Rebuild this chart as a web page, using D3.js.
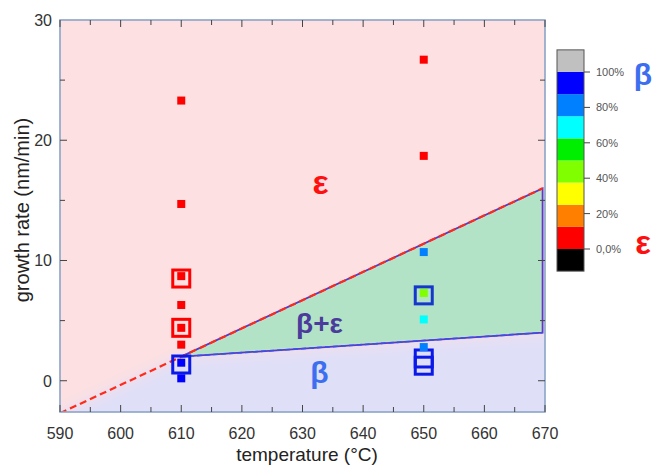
<!DOCTYPE html>
<html><head><meta charset="utf-8">
<script src="https://cdn.jsdelivr.net/npm/d3@7"></script>
<style>body{margin:0;background:#fff}svg{display:block}text{font-family:"Liberation Sans",Arial,sans-serif}</style>
</head><body>
<svg id="c" width="654" height="468"></svg>
<script>
// ---- data ----
const xTicks = [590,600,610,620,630,640,650,660,670];
const yTicks = [0,10,20,30];
const filledTemp = [610,610,610,610,610,610,610,610, 650,650,650,650,650,650];
const filledRate = [23.3,14.7,8.7,6.3,4.4,3.0,1.5,0.2, 26.7,18.7,10.7,7.3,5.1,2.8];
const filledBeta = [0,0,0,0,0,0,100,100, 0,0,80,45,68,80];
const openTemp = [610,610,610,650,650,650];
const openRate = [8.5,4.4,1.35,7.1,1.85,1.25];
const openBeta = [0,0,100,100,100,100];
// phase boundaries (temperature, rate)
const upperLine = [[590,-2.7],[669.6,16.0]];
const triangle = [[610,2.0],[669.6,16.0],[669.6,4.0]];
const lowerLine = [[610,2.0],[669.6,4.0]];
// colour bar
const barColors = ["#000000","#ff0000","#ff8000","#ffff00","#80ff00","#00ee00","#00ffff","#0080ff","#0000ff","#c0c0c0"];
const barTickVals = [0,20,40,60,80,100];
const barTickLabels = ["0,0%","20%","40%","60%","80%","100%"];

// ---- layout ----
const svg = d3.select("#c");
const x = d3.scaleLinear().domain([590,670]).range([60,545]);
const y = d3.scaleLinear().domain([-2.6,30]).range([412,20]);
const colorFor = v => barColors[Math.min(7, Math.floor(v/12.5)) + 1];

const defs = svg.append("defs");
defs.append("clipPath").attr("id","plotclip").append("rect")
  .attr("x",x(590)).attr("y",y(30)).attr("width",x(670)-x(590)).attr("height",y(-2.6)-y(30));
defs.append("filter").attr("id","blur").attr("x","-20%").attr("y","-20%").attr("width","140%").attr("height","140%")
  .append("feGaussianBlur").attr("stdDeviation",7);
defs.append("filter").attr("id","blur2")
  .append("feGaussianBlur").attr("stdDeviation",1.2);

const line = d3.line().x(d=>x(d[0])).y(d=>y(d[1]));

const bg = svg.append("g").attr("clip-path","url(#plotclip)");
const bgb = bg.append("g").attr("filter","url(#blur)");
bgb.append("rect").attr("x",x(580)).attr("y",y(34)).attr("width",x(680)-x(580)).attr("height",y(-8)-y(34)).attr("fill","#fde0e1");
const slope = (upperLine[1][1]-upperLine[0][1])/(upperLine[1][0]-upperLine[0][0]);
const lav = [[582, upperLine[0][1] + (582-590)*slope],[610,2.0],[669.6,4.0],[680,4.3],[680,-8],[582,-8]];
bgb.append("path").attr("d", line(lav)+"Z").attr("fill","#dfdff8");
bg.append("path").attr("d", line(triangle)+"Z").attr("fill","#b3e3c7").attr("filter","url(#blur2)");
bg.append("path").attr("d", line(triangle)+"Z").attr("fill","none").attr("stroke","#5a38c8").attr("stroke-width",1.8);
bg.append("path").attr("d", line(lowerLine)).attr("fill","none").attr("stroke","#3d4fe8").attr("stroke-width",1.6).attr("stroke-dasharray","5,3");
bg.append("path").attr("d", line(upperLine)).attr("fill","none").attr("stroke","#ff2a1a").attr("stroke-width",2.2).attr("stroke-dasharray","7,4");

// axes frame
const frame = svg.append("g");
const axisColor = "#8ba4c9";
frame.append("rect").attr("x",x(590)).attr("y",y(30)).attr("width",x(670)-x(590)).attr("height",y(-2.6)-y(30))
  .attr("fill","none").attr("stroke",axisColor).attr("stroke-width",1.6);
const tickC = "#444";
d3.range(590,671,5).forEach(v=>{
  const L = v%10===0 ? 7 : 5;
  frame.append("line").attr("x1",x(v)).attr("x2",x(v)).attr("y1",y(-2.6)).attr("y2",y(-2.6)-L).attr("stroke",tickC);
  frame.append("line").attr("x1",x(v)).attr("x2",x(v)).attr("y1",y(30)).attr("y2",y(30)+L).attr("stroke",tickC);
});
d3.range(0,30,5).forEach(v=>{
  const L = v%10===0 ? 7 : 5;
  frame.append("line").attr("y1",y(v)).attr("y2",y(v)).attr("x1",x(590)).attr("x2",x(590)+L).attr("stroke",tickC);
  frame.append("line").attr("y1",y(v)).attr("y2",y(v)).attr("x1",x(670)).attr("x2",x(670)-L).attr("stroke",tickC);
});
xTicks.forEach(v=>{
  frame.append("text").attr("x",x(v)).attr("y",y(-2.6)+27).attr("text-anchor","middle")
    .attr("font-size",16).attr("fill","#333").text(v);
});
yTicks.forEach(v=>{
  frame.append("text").attr("x",x(590)-8).attr("y",y(v)+6).attr("text-anchor","end")
    .attr("font-size",16).attr("fill","#333").text(v);
});
svg.append("text").attr("x",307).attr("y",461).attr("text-anchor","middle").attr("font-size",19).attr("fill","#222").text("temperature (°C)");
svg.append("text").attr("transform","translate(29,210) rotate(-90)").attr("text-anchor","middle").attr("font-size",20).attr("fill","#222").text("growth rate (nm/min)");

// phase labels
svg.append("text").attr("x",x(633)).attr("y",y(15.5)).attr("text-anchor","middle").attr("font-size",34).attr("font-weight","bold").attr("fill","#ff1010").text("ε");
svg.append("text").attr("x",x(632.8)).attr("y",y(4.0)).attr("text-anchor","middle").attr("font-size",28).attr("font-weight","bold").attr("fill","#4b3b9c").text("β+ε");
svg.append("text").attr("x",x(632.8)).attr("y",y(-0.2)).attr("text-anchor","middle").attr("font-size",30).attr("font-weight","bold").attr("fill","#3c6ef0").text("β");

// data markers
const pts = svg.append("g");
const openS = 17;
openTemp.forEach((t,i)=>{
  pts.append("rect").attr("x",x(t)-openS/2).attr("y",y(openRate[i])-openS/2).attr("width",openS).attr("height",openS)
    .attr("fill","none").attr("stroke", openBeta[i]===0 ? "#ff0000" : (t===650 && i===3 ? "#1538cc" : "#0a18e8")).attr("stroke-width",3);
});
const fs = 8;
filledTemp.forEach((t,i)=>{
  pts.append("rect").attr("x",x(t)-fs/2).attr("y",y(filledRate[i])-fs/2).attr("width",fs).attr("height",fs)
    .attr("fill", colorFor(filledBeta[i]));
});

// colour bar
const cb = svg.append("g");
const pc = d3.scaleLinear().domain([0,100]).range([249,72]);
barColors.forEach((c,i)=>{
  const lo = -12.5 + i*12.5, hi = lo + 12.5;
  cb.append("rect").attr("x",557).attr("y",pc(hi)).attr("width",27).attr("height",pc(lo)-pc(hi)).attr("fill",c);
});
cb.append("rect").attr("x",557).attr("y",pc(112.5)).attr("width",27).attr("height",pc(-12.5)-pc(112.5))
  .attr("fill","none").attr("stroke","#555").attr("stroke-width",1);
barTickVals.forEach((v,i)=>{
  cb.append("line").attr("x1",584).attr("x2",590).attr("y1",pc(v)).attr("y2",pc(v)).attr("stroke","#444");
  cb.append("text").attr("x",596).attr("y",pc(v)+4).attr("font-size",11).attr("fill","#555").text(barTickLabels[i]);
});
svg.append("text").attr("x",643).attr("y",85).attr("text-anchor","middle").attr("font-size",30).attr("font-weight","bold").attr("fill","#3c6ef0").text("β");
svg.append("text").attr("x",643).attr("y",254).attr("text-anchor","middle").attr("font-size",33).attr("font-weight","bold").attr("fill","#ff1010").text("ε");
</script>
</body></html>
